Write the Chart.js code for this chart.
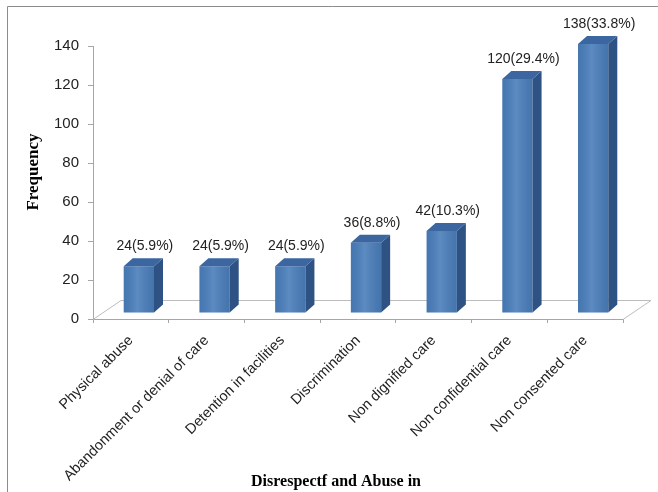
<!DOCTYPE html>
<html>
<head>
<meta charset="utf-8">
<script src="https://cdn.jsdelivr.net/npm/chart.js@4.4.1/dist/chart.umd.min.js"></script>
<style>
html, body { margin: 0; padding: 0; background: #fff; overflow: hidden; }
#wrap { width: 658px; height: 492px; position: relative; }
</style>
</head>
<body>
<div id="wrap"><canvas id="c" width="658" height="492"></canvas></div>
<script>
// values
const categories = ["Physical abuse", "Abandonment or denial of care", "Detention in facilities", "Discrimination", "Non dignified care", "Non confidential care", "Non consented care"];
const frequency = [24, 24, 24, 36, 42, 120, 138];
const percent = [5.9, 5.9, 5.9, 8.8, 10.3, 29.4, 33.8];
const yTicks = [0, 20, 40, 60, 80, 100, 120, 140];
const xTitle = "Disrespectf and Abuse in";
const yTitle = "Frequency";

// fake 3D: bars sit a bit back from the front floor edge, with a side/top face
const OX = 8, OY = -6;         // bar shift into depth
const DX = 9, DY = -8;         // bar depth
const FX = 28, FY = -19;       // floor depth
const SANS = "'Liberation Sans', Arial, sans-serif";
const SERIF = "'Liberation Serif', 'Times New Roman', serif";

const fake3d = {
    id: "fake3d",
    beforeDraw(chart) {
        const ctx = chart.ctx;
        ctx.save();
        ctx.fillStyle = "#fff"; ctx.fillRect(0, 0, chart.width, chart.height);
        ctx.strokeStyle = "#8c8c8c"; ctx.lineWidth = 1;
        ctx.beginPath(); ctx.moveTo(7.5, chart.height); ctx.lineTo(7.5, 6.5); ctx.lineTo(chart.width, 6.5); ctx.stroke();
        ctx.restore();
    },
    beforeDatasetsDraw(chart) {
        const ctx = chart.ctx, a = chart.chartArea;
        ctx.save();
        ctx.strokeStyle = "#bdbdbd"; ctx.lineWidth = 1;
        ctx.beginPath();
        ctx.moveTo(a.left, a.bottom + 0.5);
        ctx.lineTo(a.left + FX, a.bottom + FY + 0.5);
        ctx.lineTo(a.right + FX, a.bottom + FY + 0.5);
        ctx.lineTo(a.right, a.bottom + 0.5);
        ctx.stroke();
        ctx.restore();
        ctx.save();
        ctx.translate(OX, OY);
    },
    afterDatasetsDraw(chart) {
        const ctx = chart.ctx;
        const bars = chart.getDatasetMeta(0).data;
        bars.forEach(b => {
            const l = b.x - b.width / 2, r = b.x + b.width / 2;
            const g = ctx.createLinearGradient(l, 0, r, 0);
            g.addColorStop(0, "rgba(0,0,0,0.06)");
            g.addColorStop(0.45, "rgba(255,255,255,0.10)");
            g.addColorStop(1, "rgba(0,0,0,0.08)");
            ctx.fillStyle = g; ctx.fillRect(l, b.y, b.width, b.base - b.y);
            ctx.fillStyle = "#2e5283";
            ctx.beginPath();
            ctx.moveTo(r, b.y); ctx.lineTo(r + DX, b.y + DY); ctx.lineTo(r + DX, b.base + DY); ctx.lineTo(r, b.base);
            ctx.closePath(); ctx.fill();
            ctx.fillStyle = "#3b66a0";
            ctx.beginPath();
            ctx.moveTo(l, b.y); ctx.lineTo(l + DX, b.y + DY); ctx.lineTo(r + DX, b.y + DY); ctx.lineTo(r, b.y);
            ctx.closePath(); ctx.fill();
        });
        ctx.restore();
        // value labels
        ctx.save();
        ctx.font = "14px " + SANS; ctx.fillStyle = "#222";
        ctx.textAlign = "center"; ctx.textBaseline = "middle";
        bars.forEach((b, i) => {
            ctx.fillText(`${frequency[i]}(${percent[i]}%)`, b.x + OX + 6, b.y + OY - 20);
        });
        // axis titles
        ctx.font = "bold 16px " + SERIF; ctx.fillStyle = "#000";
        ctx.fillText(xTitle, 336, 482);
        ctx.translate(34, 172); ctx.rotate(-Math.PI / 2);
        ctx.font = "bold 17px " + SERIF;
        ctx.fillText(yTitle, 0, 0);
        ctx.restore();
    }
};

new Chart(document.getElementById("c"), {
    type: "bar",
    data: {
        labels: categories,
        datasets: [{ data: frequency, backgroundColor: "#4a7ebb", borderWidth: 0, barPercentage: 0.4, categoryPercentage: 1, clip: false }]
    },
    options: {
        responsive: false, animation: false, devicePixelRatio: 1,
        layout: { padding: { top: 46, right: 35, left: 0, bottom: 0 } },
        plugins: { legend: { display: false }, tooltip: { enabled: false } },
        scales: {
            x: {
                grid: { drawOnChartArea: false, drawTicks: true, tickLength: 4, color: "#a6a6a6" },
                border: { color: "#a6a6a6" },
                ticks: { minRotation: 45, maxRotation: 45, padding: 9, color: "#222", font: { family: SANS, size: 14.5 } },
                afterFit: s => { s.height = 173; }
            },
            y: {
                min: 0, max: 140,
                grid: { drawOnChartArea: false, drawTicks: true, tickLength: 5, color: "#a6a6a6" },
                border: { color: "#a6a6a6" },
                ticks: { padding: 9, color: "#222", font: { family: SANS, size: 15 } },
                afterBuildTicks: s => { s.ticks = yTicks.map(v => ({ value: v })); },
                afterFit: s => { s.width = 93; }
            }
        }
    },
    plugins: [fake3d]
});
</script>
</body>
</html>
